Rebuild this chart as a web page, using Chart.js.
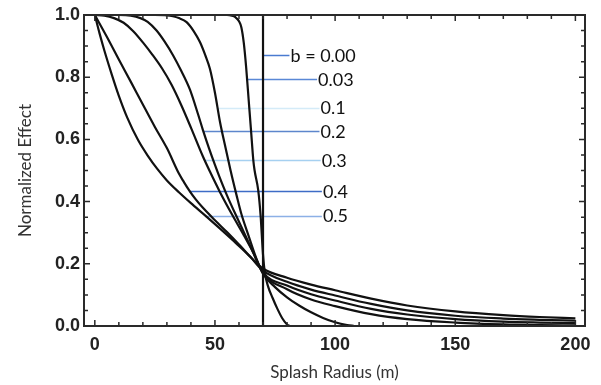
<!DOCTYPE html>
<html>
<head>
<meta charset="utf-8">
<script src="https://cdn.jsdelivr.net/npm/chart.js@4"></script>
<style>
  html, body { margin: 0; padding: 0; background: #fff; }
  #myChart { display: block; }
</style>
</head>
<body>
<canvas id="myChart" width="601" height="385"></canvas>
<script>
// tick labels
const xTicks = [0, 50, 100, 150, 200];
const yTicks = [0, 0.2, 0.4, 0.6, 0.8, 1.0];

// curve values (radius in m, normalized effect)
const b000X = [0, 70, 70, 200];
const b000Y = [1, 1, 0, 0];

const b003X = [0, 50, 55, 57, 58.5, 60, 61, 62, 63, 64, 65, 66, 66.5, 68, 69, 70, 70.8, 72, 74, 76, 78, 80, 81];
const b003Y = [1, 1, 1, 0.998, 0.993, 0.98, 0.96, 0.91, 0.83, 0.73, 0.63, 0.53, 0.5, 0.437, 0.355, 0.23, 0.17, 0.13, 0.09, 0.055, 0.025, 0.005, 0];

const b01X = [0, 25, 30, 32.5, 35, 38.2, 41, 43.75, 46, 47.9, 50, 52.1, 54.5, 56.5, 59, 61, 64, 67, 70, 75, 80, 85, 90, 95, 100, 105, 108];
const b01Y = [1, 1, 0.999, 0.996, 0.99, 0.977, 0.95, 0.913, 0.87, 0.827, 0.75, 0.656, 0.57, 0.5, 0.42, 0.36, 0.29, 0.222, 0.168, 0.125, 0.092, 0.066, 0.044, 0.026, 0.012, 0.003, 0];

const b02X = [0, 10, 15, 19, 22, 25.7, 29, 32.6, 36, 39.6, 43, 45, 47.5, 50, 52, 55, 60, 65, 70, 80, 90, 100, 115, 130, 150, 170, 185, 200];
const b02Y = [1, 1, 0.998, 0.99, 0.978, 0.95, 0.915, 0.87, 0.82, 0.76, 0.68, 0.63, 0.572, 0.518, 0.477, 0.42, 0.335, 0.252, 0.17, 0.118, 0.085, 0.064, 0.038, 0.022, 0.011, 0.005, 0.003, 0.002];

const b03X = [0, 4, 8, 12, 16, 20, 24, 28, 32, 36, 40, 45, 48, 52, 57, 62, 66, 70, 80, 90, 100, 115, 130, 150, 170, 185, 200];
const b03Y = [1, 0.998, 0.99, 0.975, 0.948, 0.912, 0.872, 0.828, 0.775, 0.71, 0.638, 0.545, 0.495, 0.432, 0.36, 0.292, 0.235, 0.172, 0.13, 0.102, 0.082, 0.055, 0.037, 0.022, 0.014, 0.011, 0.009];

const b04X = [0, 5, 10, 15, 20, 25, 30, 35, 37, 39.2, 42, 45, 50, 55, 60, 65, 70, 80, 90, 100, 115, 130, 150, 170, 185, 200];
const b04Y = [1, 0.93, 0.857, 0.785, 0.712, 0.64, 0.572, 0.49, 0.464, 0.437, 0.407, 0.38, 0.34, 0.302, 0.262, 0.22, 0.178, 0.142, 0.117, 0.098, 0.071, 0.05, 0.033, 0.024, 0.02, 0.017];

const b05X = [0, 2, 4, 7, 10, 13.5, 18, 22, 26, 30, 35, 40, 46, 52, 58, 64, 70, 80, 90, 100, 115, 130, 150, 170, 185, 200];
const b05Y = [1, 0.94, 0.885, 0.81, 0.74, 0.67, 0.598, 0.548, 0.505, 0.468, 0.43, 0.395, 0.355, 0.314, 0.272, 0.228, 0.185, 0.155, 0.133, 0.115, 0.088, 0.066, 0.047, 0.035, 0.029, 0.025];

// curve labels and where their leader lines start (on the curve) and end
const labelTexts = ['b = 0.00', '0.03', '0.1', '0.2', '0.3', '0.4', '0.5'];
const labelY = [0.872, 0.793, 0.702, 0.627, 0.534, 0.435, 0.355];
const leaderFrom = [70, 62.9, 51, 45, 45.5, 39.2, 46];
const leaderTo = [81, 92.5, 93.5, 93.5, 94, 94.5, 94.5];
const leaderColors = ['#4a7bd0', '#5a88d6', '#d4ebf8', '#5d86cc', '#a6d0f0', '#3d6cc6', '#8cb0e6'];

function pts(xs, ys) {
  return xs.map((x, i) => ({ x: x, y: ys[i] }));
}

const curves = [
  [b000X, b000Y], [b003X, b003Y], [b01X, b01Y], [b02X, b02Y],
  [b03X, b03Y], [b04X, b04Y], [b05X, b05Y]
];

const annotations = {
  id: 'annotations',
  beforeDatasetsDraw(chart) {
    const ctx = chart.ctx;
    const x = chart.scales.x, y = chart.scales.y;
    ctx.save();
    ctx.lineWidth = 1.5;
    labelTexts.forEach((t, i) => {
      const py = Math.round(y.getPixelForValue(labelY[i])) + 0.5;
      ctx.strokeStyle = leaderColors[i];
      ctx.beginPath();
      ctx.moveTo(x.getPixelForValue(leaderFrom[i]), py);
      ctx.lineTo(x.getPixelForValue(leaderTo[i]), py);
      ctx.stroke();
    });
    ctx.restore();
  },
  afterDatasetsDraw(chart) {
    const ctx = chart.ctx;
    const a = chart.chartArea;
    const x = chart.scales.x, y = chart.scales.y;
    ctx.save();
    // labels
    ctx.fillStyle = '#111';
    ctx.font = '18px Lato';
    ctx.textBaseline = 'middle';
    labelTexts.forEach((t, i) => {
      ctx.fillText(t, x.getPixelForValue(leaderTo[i]) + 1, y.getPixelForValue(labelY[i]) + 1);
    });
    // frame
    ctx.strokeStyle = '#2a2a2a';
    ctx.lineWidth = 2;
    ctx.strokeRect(a.left, a.top, a.right - a.left, a.bottom - a.top);
    // inward ticks
    ctx.lineWidth = 1.5;
    ctx.beginPath();
    for (let v = 0; v <= 200; v += 10) {
      const px = x.getPixelForValue(v);
      const len = v % 50 === 0 ? 6 : 4;
      ctx.moveTo(px, a.bottom); ctx.lineTo(px, a.bottom - len);
      ctx.moveTo(px, a.top); ctx.lineTo(px, a.top + len);
    }
    for (let k = 0; k <= 20; k++) {
      const py = y.getPixelForValue(k * 0.05);
      const len = k % 4 === 0 ? 6 : 4;
      ctx.moveTo(a.left, py); ctx.lineTo(a.left + len, py);
      ctx.moveTo(a.right, py); ctx.lineTo(a.right - len, py);
    }
    ctx.stroke();
    ctx.restore();
  }
};

const ctx = document.getElementById('myChart').getContext('2d');
const myChart = new Chart(ctx, {
  type: 'line',
  data: {
    datasets: curves.map((c, i) => ({
      label: labelTexts[i],
      data: pts(c[0], c[1]),
      borderColor: '#111',
      borderWidth: 2.2,
      pointRadius: 0,
      fill: false,
      cubicInterpolationMode: i === 0 ? 'default' : 'monotone',
      tension: 0
    }))
  },
  options: {
    responsive: false,
    animation: false,
    devicePixelRatio: 1,
    layout: { padding: { top: 15, right: 16, left: 0, bottom: 0 } },
    plugins: { legend: { display: false }, tooltip: { enabled: false } },
    scales: {
      x: {
        type: 'linear',
        min: -4.5,
        max: 204,
        afterBuildTicks: (scale) => { scale.ticks = xTicks.map(v => ({ value: v })); },
        afterFit: (scale) => { scale.height = 59; },
        grid: { display: false, drawTicks: false },
        border: { display: false },
        ticks: {
          padding: 8,
          color: '#222',
          font: { family: 'Liberation Sans', size: 18, weight: 'bold' },
          callback: (v) => String(v)
        },
        title: {
          display: true,
          text: 'Splash Radius (m)',
          color: '#333',
          font: { family: 'Lato', size: 17 },
          padding: { top: 2, bottom: 2 }
        }
      },
      y: {
        type: 'linear',
        min: 0,
        max: 1,
        afterBuildTicks: (scale) => { scale.ticks = yTicks.map(v => ({ value: v })); },
        afterFit: (scale) => { scale.width = 84; },
        grid: { display: false, drawTicks: false },
        border: { display: false },
        ticks: {
          padding: 4,
          color: '#222',
          font: { family: 'Liberation Sans', size: 18, weight: 'bold' },
          callback: (v) => Number(v).toFixed(1)
        },
        title: {
          display: true,
          text: 'Normalized Effect',
          color: '#333',
          font: { family: 'Lato', size: 17 },
          padding: { top: 15, bottom: 15 }
        }
      }
    }
  },
  plugins: [annotations]
});
</script>
</body>
</html>
